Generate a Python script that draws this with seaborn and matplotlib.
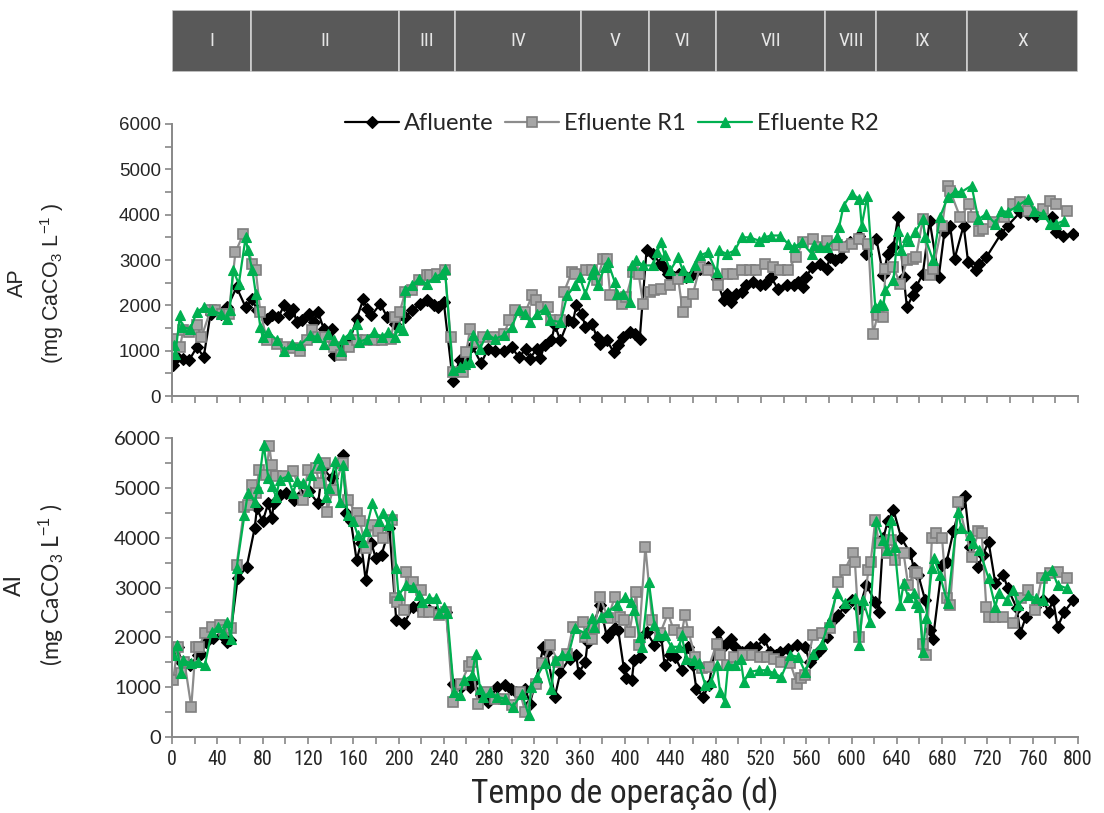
import matplotlib
matplotlib.use("Agg")
import matplotlib.pyplot as plt
import seaborn as sns
import pandas as pd
from matplotlib.patches import Rectangle
from matplotlib.lines import Line2D
from matplotlib.ticker import MultipleLocator

sns.set_style("white")
plt.rcParams['font.family'] = ['Liberation Sans', 'DejaVu Sans']
plt.rcParams['mathtext.fontset'] = 'custom'
plt.rcParams['mathtext.rm'] = 'Liberation Sans'
plt.rcParams['mathtext.it'] = 'Liberation Sans:italic'

# ---------------- operating phases ----------------
phase_labels = ["I", "II", "III", "IV", "V", "VI", "VII", "VIII", "IX", "X"]
phase_edges = [0, 70, 200, 250, 361, 421, 480, 577, 622, 702, 800]

# ---------------- AP (partial alkalinity) ----------------
ap_afl_day = [1, 4, 10, 15, 22, 28, 34, 43, 49, 57, 65, 71, 75, 84, 88, 94, 99, 103, 107, 110,
              115, 121, 125, 129, 134, 141, 143, 150, 156, 163, 169, 172, 176, 184, 190, 197, 206,
              212, 219, 225, 231, 235, 240, 248, 254, 259, 265, 273, 279, 285, 293, 300, 306, 313,
              316, 322, 325, 329, 335, 338, 343, 350, 354, 357, 362, 365, 371, 375, 378, 384, 390,
              394, 398, 404, 409, 413, 419, 425, 431, 434, 438, 443, 448, 454, 460, 466, 473, 481,
              487, 490, 494, 498, 503, 507, 513, 519, 524, 529, 535, 543, 549, 553, 557, 560, 565,
              572, 578, 581, 585, 591, 599, 607, 613, 622, 628, 632, 637, 641, 646, 649, 654, 657,
              663, 669, 677, 682, 687, 691, 699, 703, 710, 713, 719, 732, 738, 749, 756, 763, 777,
              781, 787, 796]
ap_afl_val = [680, 860, 820, 785, 1080, 860, 1810, 1810, 1960, 2400, 1960, 2140, 1890, 1700, 1780,
              1740, 2000, 1810, 1920, 1630, 1670, 1810, 1630, 1850, 1480, 1480, 900, 1050, 1150,
              1700, 2140, 1920, 1780, 2030, 1740, 1590, 1740, 1890, 2030, 2110, 2000, 1960, 2070,
              320, 800, 850, 1100, 720, 1040, 1000, 1000, 1080, 860, 1040, 820, 1040, 830, 1115,
              1225, 1560, 1225, 1670, 1630, 2000, 1810, 1520, 1590, 1300, 1150, 1225, 970, 1115,
              1300, 1410, 1370, 1260, 3210, 3135, 2915, 2840, 2695, 2620, 2695, 2620, 2695, 2805,
              2840, 2585, 2110, 2255, 2070, 2255, 2290, 2440, 2510, 2440, 2475, 2620, 2365, 2440,
              2440, 2510, 2400, 2620, 2840, 2915, 2805, 3060, 2990, 3060, 3390, 3540, 3135, 3465,
              2660, 3135, 3280, 3940, 2620, 1960, 2220, 2400, 2695, 3870, 2620, 3610, 3760, 3025,
              3760, 2950, 2770, 2915, 3060, 3575, 3760, 4055, 4015, 3980, 3940, 3610, 3540, 3575]

ap_r1_day = [0, 7, 10, 15, 22, 26, 34, 38, 44, 50, 56, 63, 71, 74, 78, 84, 93, 101, 107, 113, 119,
             124, 129, 135, 143, 149, 156, 163, 171, 178, 185, 193, 197, 201, 206, 212, 218, 225,
             228, 234, 241, 246, 248, 257, 260, 263, 268, 275, 284, 293, 298, 303, 312, 318, 321,
             326, 332, 335, 343, 346, 353, 356, 366, 371, 375, 381, 384, 387, 397, 401, 407, 412,
             416, 422, 426, 432, 440, 447, 451, 454, 460, 466, 473, 482, 490, 495, 503, 510, 516,
             524, 531, 537, 544, 551, 557, 566, 572, 578, 587, 593, 600, 607, 615, 619, 623, 628,
             630, 637, 643, 649, 654, 657, 663, 669, 672, 680, 685, 687, 696, 704, 707, 713, 716,
             725, 735, 743, 749, 756, 769, 775, 781, 790]
ap_r1_val = [1260, 1080, 1450, 1410, 1560, 1300, 1890, 1890, 1810, 1810, 3170, 3575, 2915, 2770,
             1850, 1225, 1150, 1080, 1050, 1000, 1225, 1450, 1300, 1300, 1080, 900, 1080, 1225,
             1225, 1225, 1225, 1260, 1740, 1850, 2290, 2330, 2550, 2660, 2660, 2695, 2770, 1300,
             530, 530, 970, 1480, 1200, 1300, 1300, 1370, 1670, 1890, 1850, 2220, 2110, 1960, 1960,
             1670, 1670, 2290, 2730, 2695, 2770, 2770, 2550, 3025, 3025, 2220, 2035, 2180, 2730,
             2695, 2035, 2290, 2330, 2365, 2440, 2585, 1850, 2070, 2255, 2840, 2770, 2440, 2695,
             2695, 2770, 2770, 2770, 2915, 2840, 2770, 2785, 3060, 3390, 3465, 3280, 3430, 3320,
             3280, 3355, 3465, 3355, 1370, 1780, 1740, 2805, 2840, 2475, 2990, 3025, 3060, 3900,
             2660, 2805, 3760, 4640, 4530, 3940, 4240, 3940, 3650, 3690, 3830, 3940, 4240, 4275,
             4090, 4130, 4310, 4240, 4090]

ap_r2_day = [1.5, 3, 7, 9, 16, 22, 28, 35, 43, 49, 51, 54, 59, 65, 67, 71, 74, 78, 80, 85, 93, 99,
             106, 113, 122, 128, 134, 138, 143, 149, 151, 157, 163, 165, 172, 178, 185, 191, 197,
             200, 204, 206, 212, 218, 225, 232, 238, 241, 248, 254, 259, 263, 266, 272, 278, 285,
             293, 300, 306, 312, 316, 322, 329, 334, 343, 349, 356, 360, 365, 371, 373, 376, 382,
             385, 391, 393, 398, 404, 406, 410, 416, 425, 428, 432, 435, 440, 447, 451, 456, 462,
             466, 473, 481, 483, 490, 497, 503, 510, 518, 523, 529, 537, 544, 549, 556, 565, 567,
             572, 578, 587, 589, 593, 600, 607, 609, 614, 621, 625, 628, 630, 637, 641, 644, 649,
             651, 656, 663, 665, 672, 678, 685, 691, 697, 706, 712, 719, 727, 732, 738, 747, 756,
             761, 769, 775, 781, 788]
ap_r2_val = [1115, 930, 1780, 1520, 1480, 1850, 1960, 1890, 1810, 1700, 1890, 2770, 2475, 3500,
             3210, 2770, 2255, 1520, 1300, 1410, 1225, 1000, 1150, 1115, 1340, 1300, 1150, 1370,
             1225, 1000, 1260, 1370, 1590, 1190, 1260, 1410, 1300, 1410, 1300, 1520, 1450, 2330,
             2440, 2585, 2475, 2620, 2695, 2805, 565, 640, 710, 750, 1340, 1040, 1370, 1260, 1340,
             1520, 1890, 1810, 1630, 1810, 1920, 1670, 1630, 2220, 2440, 2620, 2255, 2695, 2805,
             2440, 2840, 2950, 2510, 2255, 2255, 2070, 2880, 2990, 2880, 2880, 3170, 3390, 3100,
             2770, 3060, 2770, 2620, 2880, 3100, 3170, 2730, 3210, 3135, 3210, 3500, 3500, 3430,
             3500, 3540, 3540, 3355, 3280, 3390, 3135, 3320, 3280, 3280, 3500, 3720, 4200, 4460,
             4350, 3760, 4420, 1960, 2030, 2000, 2330, 2550, 3650, 3210, 3500, 3430, 3610, 3900,
             3500, 2990, 3940, 4385, 4500, 4500, 4640, 3900, 4015, 3800, 4090, 4055, 4200, 4350,
             4090, 4015, 3800, 3800, 3870]

# ---------------- AI (intermediate alkalinity) ----------------
ai_afl_day = [1, 5, 8, 16, 23, 26, 30, 36, 44, 49, 51, 58, 66, 73, 75, 80, 85, 88, 90, 95, 101,
              108, 114, 121, 129, 133, 141, 151, 154, 158, 163, 167, 171, 176, 180, 185, 192, 198,
              205, 213, 218, 227, 233, 242, 248, 255, 263, 266, 273, 279, 287, 294, 299, 304, 312,
              316, 321, 328, 331, 338, 343, 351, 357, 359, 365, 367, 371, 378, 384, 387, 391, 394,
              399, 401, 406, 408, 413, 419, 426, 432, 435, 440, 444, 450, 456, 460, 463, 469, 474,
              482, 488, 494, 497, 503, 510, 516, 523, 528, 533, 537, 544, 552, 559, 563, 568, 572,
              578, 584, 588, 594, 600, 607, 613, 621, 624, 628, 632, 637, 644, 652, 655, 659, 665,
              669, 672, 680, 684, 690, 696, 700, 705, 712, 716, 721, 727, 734, 738, 746, 749, 754,
              762, 769, 774, 778, 782, 788, 796]
ai_afl_val = [1710, 1810, 1510, 1440, 1640, 1675, 1910, 1980, 2045, 1910, 1945, 3185, 3420, 4190,
              4590, 4325, 4690, 4390, 4690, 4860, 4895, 4760, 4860, 4930, 4690, 5395, 5195, 5650,
              4490, 4325, 3550, 3890, 3150, 3890, 3585, 3655, 4190, 2345, 2280, 2615, 2615, 2550,
              2515, 2515, 1070, 1005, 1005, 1105, 840, 705, 1005, 1040, 970, 905, 970, 670, 1105,
              1810, 1710, 805, 1305, 1575, 1640, 1275, 1510, 1910, 2180, 2650, 2010, 2080, 2180,
              2145, 1375, 1175, 1140, 1540, 1610, 2110, 1845, 2010, 1440, 1640, 1610, 1340, 1810,
              1440, 970, 805, 1040, 2110, 1845, 1975, 1810, 1710, 1810, 1810, 1975, 1710, 1640,
              1710, 1775, 1845, 1810, 1510, 1640, 1745, 2010, 2345, 2445, 2615, 2750, 2580, 3050,
              2715, 2515, 3990, 4325, 4560, 3990, 3685, 3385, 3250, 2750, 2145, 1975, 3450, 3520,
              4125, 4660, 4830, 3820, 3420, 3655, 3920, 3085, 3250, 2985, 2580, 2080, 2415, 2615,
              2750, 2515, 2750, 2210, 2515, 2750]

ai_r1_day = [1, 5, 8, 11, 17, 21, 24, 29, 35, 42, 46, 52, 57, 64, 67, 71, 74, 77, 83, 86, 88, 92,
             98, 107, 116, 120, 127, 130, 135, 137, 142, 151, 155, 163, 166, 171, 177, 182, 186,
             194, 197, 199, 205, 207, 213, 220, 222, 227, 236, 242, 248, 255, 262, 265, 270, 278,
             285, 293, 300, 307, 312, 321, 327, 334, 341, 349, 354, 363, 365, 371, 373, 378, 385,
             391, 396, 399, 404, 410, 412, 418, 424, 431, 438, 443, 450, 453, 456, 462, 468, 474,
             481, 484, 490, 496, 504, 512, 519, 525, 532, 538, 546, 552, 555, 559, 566, 574, 581,
             588, 594, 601, 603, 607, 615, 617, 621, 624, 631, 635, 638, 646, 650, 656, 658, 663,
             666, 671, 675, 680, 684, 687, 694, 706, 712, 715, 719, 721, 727, 734, 743, 750, 756,
             762, 768, 775, 782, 790]
ai_r1_val = [1140, 1810, 1275, 1510, 605, 1810, 1810, 2080, 2210, 2245, 2145, 2180, 3450, 4625,
             4660, 5060, 4895, 5365, 5265, 5830, 5465, 5230, 5230, 5330, 4760, 5365, 5395, 5095,
             5500, 4525, 4960, 5500, 4760, 4490, 4325, 3790, 4255, 4125, 3990, 4360, 2780, 2715,
             2550, 3320, 3120, 2950, 2515, 2515, 2445, 2515, 705, 1070, 1430, 1510, 670, 905, 770,
             770, 635, 905, 505, 1070, 1475, 1845, 1510, 1675, 2210, 2315, 2010, 1975, 2180, 2815,
             2380, 2815, 2415, 2345, 2110, 2915, 1845, 3820, 2345, 2080, 2480, 2145, 2080, 2445,
             2110, 1610, 1375, 1410, 1875, 1640, 1440, 1610, 1640, 1640, 1610, 1610, 1575, 1510,
             1475, 1070, 1175, 1240, 2045, 2080, 2180, 3120, 3350, 3685, 3520, 2010, 3350, 3520,
             4360, 3890, 3685, 3955, 3555, 3685, 3050, 3320, 3285, 1875, 1640, 3990, 4090, 3990,
             2780, 2650, 4725, 3620, 4125, 4090, 2615, 2415, 2415, 2415, 2280, 2780, 2950, 2550,
             3185, 3285, 3320, 3185]

ai_r2_day = [1, 4, 8, 10, 17, 23, 29, 35, 41, 45, 49, 52, 57, 64, 67, 73, 76, 81, 85, 88, 92, 95,
             102, 107, 110, 116, 120, 123, 129, 132, 136, 139, 144, 148, 151, 155, 160, 164, 169,
             171, 177, 183, 186, 191, 194, 198, 200, 207, 213, 218, 221, 227, 233, 236, 240, 243,
             249, 254, 258, 265, 268, 272, 275, 281, 287, 294, 301, 309, 315, 317, 322, 329, 335,
             338, 344, 350, 356, 365, 371, 373, 379, 385, 393, 400, 405, 408, 413, 415, 421, 426,
             429, 435, 441, 448, 450, 454, 461, 465, 471, 476, 481, 484, 488, 491, 497, 502, 505,
             510, 518, 525, 532, 538, 546, 553, 559, 566, 574, 580, 587, 594, 603, 607, 610, 616,
             622, 628, 631, 635, 638, 643, 646, 650, 655, 657, 660, 663, 666, 671, 673, 678, 685,
             694, 697, 705, 707, 713, 721, 727, 730, 737, 743, 747, 756, 763, 769, 771, 777, 782,
             790]
ai_r2_val = [1640, 1845, 1275, 1540, 1475, 1510, 1440, 2110, 2210, 2080, 2315, 1975, 3385, 4460,
             4895, 4725, 4995, 5865, 5195, 5030, 4825, 5160, 5230, 4895, 5130, 5095, 4930, 5265,
             5600, 5465, 4825, 4995, 5530, 4725, 5465, 4460, 4325, 4055, 3920, 4125, 4690, 4325,
             4490, 4255, 4460, 3385, 2850, 3050, 3015, 2850, 2715, 2780, 2780, 2480, 2615, 2480,
             905, 840, 1140, 1240, 1675, 970, 805, 905, 805, 770, 605, 870, 435, 1005, 1205, 1475,
             970, 1540, 1640, 1640, 2180, 2080, 2380, 2210, 2415, 2515, 2650, 2815, 2715, 2550,
             2010, 1810, 3120, 2245, 2045, 2045, 1810, 1810, 2045, 1575, 1540, 1475, 1040, 1105,
             1440, 905, 705, 1440, 1440, 1575, 1105, 1305, 1340, 1340, 1275, 1205, 1640, 1610,
             1305, 1675, 1875, 2315, 2880, 2680, 2780, 1845, 2750, 2315, 4325, 3955, 3755, 4360,
             3820, 2650, 3085, 2815, 2880, 2680, 2615, 1710, 2380, 3385, 3585, 3250, 2680, 4525,
             4190, 4055, 3890, 3755, 3185, 2615, 2880, 2750, 2950, 2650, 2850, 2780, 2750, 3250,
             3350, 3050, 2985]

series_names = ["Afluente", "Efluente R1", "Efluente R2"]
ap_series = [(ap_afl_day, ap_afl_val), (ap_r1_day, ap_r1_val), (ap_r2_day, ap_r2_val)]
ai_series = [(ai_afl_day, ai_afl_val), (ai_r1_day, ai_r1_val), (ai_r2_day, ai_r2_val)]

styles = {
    "Afluente": dict(color="black", marker="D", markersize=6, markerfacecolor="black",
                     markeredgecolor="black", markeredgewidth=0.8, linewidth=1.6),
    "Efluente R1": dict(color="#8C8C8C", marker="s", markersize=7, markerfacecolor="#A6A6A6",
                        markeredgecolor="#7F7F7F", markeredgewidth=1.2, linewidth=1.6),
    "Efluente R2": dict(color="#00B050", marker="^", markersize=7.5, markerfacecolor="#00B050",
                        markeredgecolor="#00B050", markeredgewidth=0.8, linewidth=1.6),
}

# fonts: a condensed face for the time axis and phase labels
narrow = ["Roboto Condensed", "DejaVu Sans"]
narrow_kw = dict(family=narrow, stretch="condensed")
arial = ["Liberation Sans", "DejaVu Sans"]
calib = ["Lato", "DejaVu Sans"]

W, H = 1104, 813
fig = plt.figure(figsize=(W / 100, H / 100), dpi=100)
L, R = 172, 1078
ax_ph = fig.add_axes([L / W, 1 - 72 / H, (R - L) / W, 62 / H])
ax1 = fig.add_axes([L / W, 1 - 396 / H, (R - L) / W, 272 / H])
ax2 = fig.add_axes([L / W, 1 - 737 / H, (R - L) / W, 299 / H])

# phase bar
ax_ph.set_xlim(0, 800)
ax_ph.set_ylim(0, 1)
ax_ph.axis("off")
for lab, a, b in zip(phase_labels, phase_edges[:-1], phase_edges[1:]):
    ax_ph.add_patch(Rectangle((a, 0), b - a, 1, facecolor="#595959", edgecolor="#D0D0D0",
                              linewidth=1.2))
    ax_ph.text((a + b) / 2, 0.5, lab, ha="center", va="center", color="#E6E6E6",
               fontsize=14, **narrow_kw)


def draw(ax, series):
    for name, (d, v) in zip(series_names, series):
        df = pd.DataFrame({"dia": d, "valor": v})
        sns.lineplot(data=df, x="dia", y="valor", ax=ax, estimator=None, sort=False,
                     legend=False, **styles[name])
    ax.set_xlim(0, 800)
    ax.set_ylim(0, 6000)
    ax.xaxis.set_major_locator(MultipleLocator(40))
    ax.xaxis.set_minor_locator(MultipleLocator(20))
    ax.yaxis.set_major_locator(MultipleLocator(1000))
    ax.yaxis.set_minor_locator(MultipleLocator(500))
    for s in ["top", "right"]:
        ax.spines[s].set_visible(False)
    for s in ["left", "bottom"]:
        ax.spines[s].set_color("#888888")
        ax.spines[s].set_linewidth(1.4)
    ax.tick_params(which="both", direction="out", length=5, width=1.2, color="#888888",
                   left=True, bottom=True)
    ax.set_xlabel("")


draw(ax1, ap_series)
draw(ax2, ai_series)

ax1.tick_params(axis="x", labelbottom=False)
ax1.tick_params(axis="y", labelsize=13.5, pad=3)
ax2.tick_params(axis="y", labelsize=14.5, pad=3)
ax2.tick_params(axis="x", labelsize=14.5, pad=4)
fig.canvas.draw()
for t in ax1.get_yticklabels():
    t.set_family(arial)
for t in ax2.get_yticklabels():
    t.set_family(calib)
for t in ax2.get_xticklabels():
    t.set_family(narrow)
    t.set_stretch("condensed")

ax1.set_ylabel("AP\n(mg CaCO$_3$ L$^{-1}$ )", fontsize=15.5, linespacing=1.5, family=arial)
ax1.yaxis.set_label_coords(-0.117, 0.415)
ax2.set_ylabel("AI\n(mg CaCO$_3$ L$^{-1}$ )", fontsize=16.5, linespacing=1.5, family=calib)
ax2.yaxis.set_label_coords(-0.117, 0.51)
ax2.set_xlabel("Tempo de operação (d)", fontsize=24, labelpad=6, **narrow_kw)

handles = [Line2D([], [], **styles[n]) for n in series_names]
leg = ax1.legend(handles, series_names, loc="center", bbox_to_anchor=(0.485, 1.0), ncol=3,
                 frameon=False, handlelength=2.3, handletextpad=0.2, columnspacing=0.5,
                 prop={"family": calib, "size": 17})

fig.savefig("out.png", dpi=100)
